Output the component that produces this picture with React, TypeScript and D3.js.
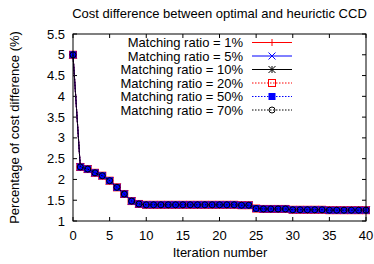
import React from 'react';
import * as d3 from 'd3';

const iterations = d3.range(0, 41);
// percentage of cost difference per iteration (all ratios coincide)
const costDiff = [
  5.0, 2.3, 2.25, 2.16, 2.09, 1.97, 1.81, 1.65, 1.48, 1.41,
  1.39, 1.39, 1.39, 1.39, 1.39, 1.39, 1.39, 1.39, 1.39, 1.39,
  1.39, 1.39, 1.39, 1.38, 1.38, 1.3, 1.29, 1.29, 1.29, 1.29,
  1.27, 1.27, 1.27, 1.27, 1.27, 1.26, 1.26, 1.26, 1.26, 1.26, 1.26,
];
const seriesNames = [
  'Matching ratio = 1%',
  'Matching ratio = 5%',
  'Matching ratio = 10%',
  'Matching ratio = 20%',
  'Matching ratio = 50%',
  'Matching ratio = 70%',
];
const seriesValues = [costDiff, costDiff, costDiff, costDiff, costDiff, costDiff];
const xTicks = [0, 5, 10, 15, 20, 25, 30, 35, 40];
const yTicks = [1, 1.5, 2, 2.5, 3, 3.5, 4, 4.5, 5, 5.5];

const styles = [
  { color: '#ff0000', dash: undefined, marker: 'plus' },
  { color: '#0000ff', dash: undefined, marker: 'cross' },
  { color: '#000000', dash: undefined, marker: 'star' },
  { color: '#ff0000', dash: '1.5,1.5', marker: 'square' },
  { color: '#0000ff', dash: '1.5,1.5', marker: 'filledSquare' },
  { color: '#000000', dash: '1.5,1.5', marker: 'circle' },
];

const W = 374;
const H = 264;
const margin = { top: 34, right: 8, bottom: 43, left: 73 };
const font = 'Liberation Sans, Arial, sans-serif';

const Marker = ({ type, x, y, color }: { type: string; x: number; y: number; color: string }) => {
  const s = 3.5;
  if (type === 'plus')
    return (
      <path d={`M${x - s},${y}H${x + s}M${x},${y - s}V${y + s}`} stroke={color} strokeWidth={1} />
    );
  if (type === 'cross')
    return (
      <path
        d={`M${x - s},${y - s}L${x + s},${y + s}M${x - s},${y + s}L${x + s},${y - s}`}
        stroke={color}
        strokeWidth={1}
      />
    );
  if (type === 'star')
    return (
      <path
        d={`M${x - s},${y}H${x + s}M${x},${y - s}V${y + s}M${x - s},${y - s}L${x + s},${y + s}M${x - s},${y + s}L${x + s},${y - s}`}
        stroke={color}
        strokeWidth={1}
      />
    );
  if (type === 'square')
    return <rect x={x - s} y={y - s} width={2 * s} height={2 * s} fill="none" stroke={color} strokeWidth={1} />;
  if (type === 'filledSquare')
    return <rect x={x - s} y={y - s} width={2 * s} height={2 * s} fill={color} />;
  return <circle cx={x} cy={y} r={3} fill="none" stroke={color} strokeWidth={1} />;
};

export default function App() {
  const x = d3.scaleLinear().domain([0, 40]).range([margin.left, W - margin.right]);
  const y = d3.scaleLinear().domain([1, 5.5]).range([H - margin.bottom, margin.top]);
  const line = d3
    .line<number>()
    .x((_, i) => x(iterations[i]))
    .y((d) => y(d));
  const x0 = x.range()[0];
  const x1 = x.range()[1];
  const y0 = y.range()[0];
  const y1 = y.range()[1];
  const tick = 4;

  return (
    <svg width={W} height={H} style={{ position: 'absolute', left: 0, top: 0, background: '#fff' }}>
      <text x={(x0 + x1) / 2} y={18} textAnchor="middle" fontFamily={font} fontSize={13}>
        Cost difference between optimal and heurictic CCD
      </text>

      {/* ticks */}
      {xTicks.map((t) => (
        <g key={'x' + t}>
          <line x1={x(t)} x2={x(t)} y1={y0} y2={y0 - tick} stroke="#000" />
          <line x1={x(t)} x2={x(t)} y1={y1} y2={y1 + tick} stroke="#000" />
          <text x={x(t)} y={240} textAnchor="middle" fontFamily={font} fontSize={13}>
            {t}
          </text>
        </g>
      ))}
      {yTicks.map((t) => (
        <g key={'y' + t}>
          <line x1={x0} x2={x0 + tick} y1={y(t)} y2={y(t)} stroke="#000" />
          <line x1={x1} x2={x1 - tick} y1={y(t)} y2={y(t)} stroke="#000" />
          <text x={65} y={y(t) + 4.5} textAnchor="end" fontFamily={font} fontSize={13}>
            {t}
          </text>
        </g>
      ))}

      <text x={220} y={257} textAnchor="middle" fontFamily={font} fontSize={13}>
        Iteration number
      </text>
      <text
        transform={`translate(19,${(y0 + y1) / 2}) rotate(-90)`}
        textAnchor="middle"
        fontFamily={font}
        fontSize={13}
      >
        Percentage of cost difference (%)
      </text>

      {/* series */}
      {seriesValues.map((vals, si) => (
        <g key={si}>
          <path
            d={line(vals) ?? ''}
            fill="none"
            stroke={styles[si].color}
            strokeWidth={1}
            strokeDasharray={styles[si].dash}
          />
          {vals.map((v, i) => (
            <Marker key={i} type={styles[si].marker} x={x(iterations[i])} y={y(v)} color={styles[si].color} />
          ))}
        </g>
      ))}

      {/* legend */}
      {seriesNames.map((name, si) => {
        const ly = 42.5 + si * 13.5;
        return (
          <g key={name}>
            <text x={243} y={ly + 4.5} textAnchor="end" fontFamily={font} fontSize={13}>
              {name}
            </text>
            <line
              x1={252}
              x2={292}
              y1={ly}
              y2={ly}
              stroke={styles[si].color}
              strokeWidth={1}
              strokeDasharray={styles[si].dash}
            />
            <Marker type={styles[si].marker} x={272} y={ly} color={styles[si].color} />
          </g>
        );
      })}

      <rect x={x0} y={y1} width={x1 - x0} height={y0 - y1} fill="none" stroke="#000" strokeWidth={1} />
    </svg>
  );
}
